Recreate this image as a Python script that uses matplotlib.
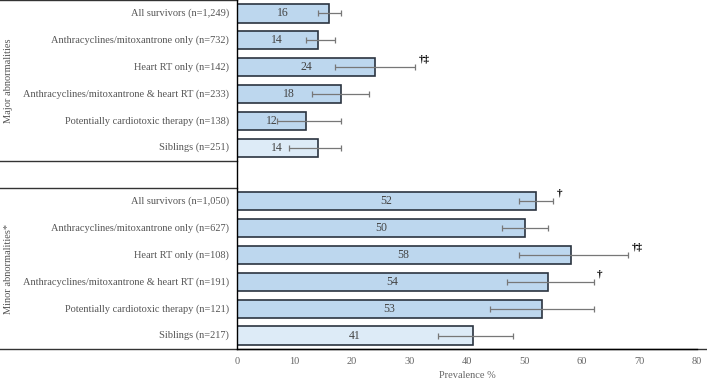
import matplotlib
matplotlib.use("Agg")
import matplotlib.pyplot as plt
import matplotlib.transforms as mtransforms

plt.rcParams['font.family'] = ['Liberation Serif', 'DejaVu Serif']

# datos
major_labels = ['All survivors (n=1,249)', 'Anthracyclines/mitoxantrone only (n=732)',
                'Heart RT only (n=142)', 'Anthracyclines/mitoxantrone & heart RT (n=233)',
                'Potentially cardiotoxic therapy (n=138)', 'Siblings (n=251)']
major_vals = [16, 14, 24, 18, 12, 14]
major_lo = [14, 12, 17, 13, 7, 9]
major_hi = [18, 17, 31, 23, 18, 18]
major_marks = ['', '', '†‡', '', '', '']

minor_labels = ['All survivors (n=1,050)', 'Anthracyclines/mitoxantrone only (n=627)',
                'Heart RT only (n=108)', 'Anthracyclines/mitoxantrone & heart RT (n=191)',
                'Potentially cardiotoxic therapy (n=121)', 'Siblings (n=217)']
minor_vals = [52, 50, 58, 54, 53, 41]
minor_lo = [49, 46, 49, 47, 44, 35]
minor_hi = [55, 54, 68, 62, 62, 48]
minor_marks = ['†', '', '†‡', '†', '', '']

xticks = [0, 10, 20, 30, 40, 50, 60, 70, 80]

labels = major_labels + minor_labels
vals = major_vals + minor_vals
lo = major_lo + minor_lo
hi = major_hi + minor_hi
marks = major_marks + minor_marks
ypos = list(range(6)) + list(range(7, 13))
colores = ['#bdd7ee'] * 5 + ['#ddebf7'] + ['#bdd7ee'] * 5 + ['#ddebf7']

fig = plt.figure(figsize=(7.07, 3.8), dpi=100)
left = 237 / 707
ax = fig.add_axes([left, 1 - 349 / 380, 697 / 707 - left, 349 / 380])

ax.barh(ypos, vals, height=0.68, color=colores, edgecolor='#2b3440', linewidth=1.2, zorder=2)
xerr = [[v - l for v, l in zip(vals, lo)], [h - v for v, h in zip(vals, hi)]]
ax.errorbar(vals, ypos, xerr=xerr, fmt='none', ecolor='#777777', elinewidth=0.9,
            capsize=2, capthick=0.9, zorder=3)

for y, v, h, m in zip(ypos, vals, hi, marks):
    ax.text(v / 2, y, str(v), ha='center', va='center', fontsize=8.5, color='#444444', zorder=4)
    if m:
        ax.text(h + 0.6, y - 0.3, m, ha='left', va='center', fontsize=8,
                fontweight='bold', color='black')

ax.set_xlim(0, 80)
ax.set_ylim(12.5, -0.5)
ax.set_yticks([])
ax.set_xticks(xticks)
ax.tick_params(axis='x', length=0, labelsize=7.5, labelcolor='#666666', pad=6)
ax.set_xlabel('Prevalence %', fontsize=7.5, color='#666666', labelpad=3)
for s in ['top', 'right']:
    ax.spines[s].set_visible(False)
ax.spines['left'].set_linewidth(1)
ax.spines['bottom'].set_linewidth(1)

# panel de etiquetas a la izquierda
trans = mtransforms.blended_transform_factory(fig.transFigure, ax.transData)
fx_lab = 229 / 707
for y, lab in zip(ypos, labels):
    ax.text(fx_lab, y, lab, transform=trans, ha='right', va='center',
            fontsize=7.5, color='#555555')

for yl in [-0.5, 5.5, 6.5]:
    ax.plot([0, left], [yl, yl], transform=trans, color='#333333', lw=1, clip_on=False)
ax.plot([0, 1], [12.5, 12.5], transform=trans, color='#333333', lw=1, clip_on=False)

ax.text(9 / 707, 2.5, 'Major abnormalities', transform=trans, rotation=90,
        ha='center', va='center', fontsize=7.5, color='#555555')
ax.text(9 / 707, 9.5, 'Minor abnormalities*', transform=trans, rotation=90,
        ha='center', va='center', fontsize=7.5, color='#555555')

fig.savefig('out.png', dpi=100)
